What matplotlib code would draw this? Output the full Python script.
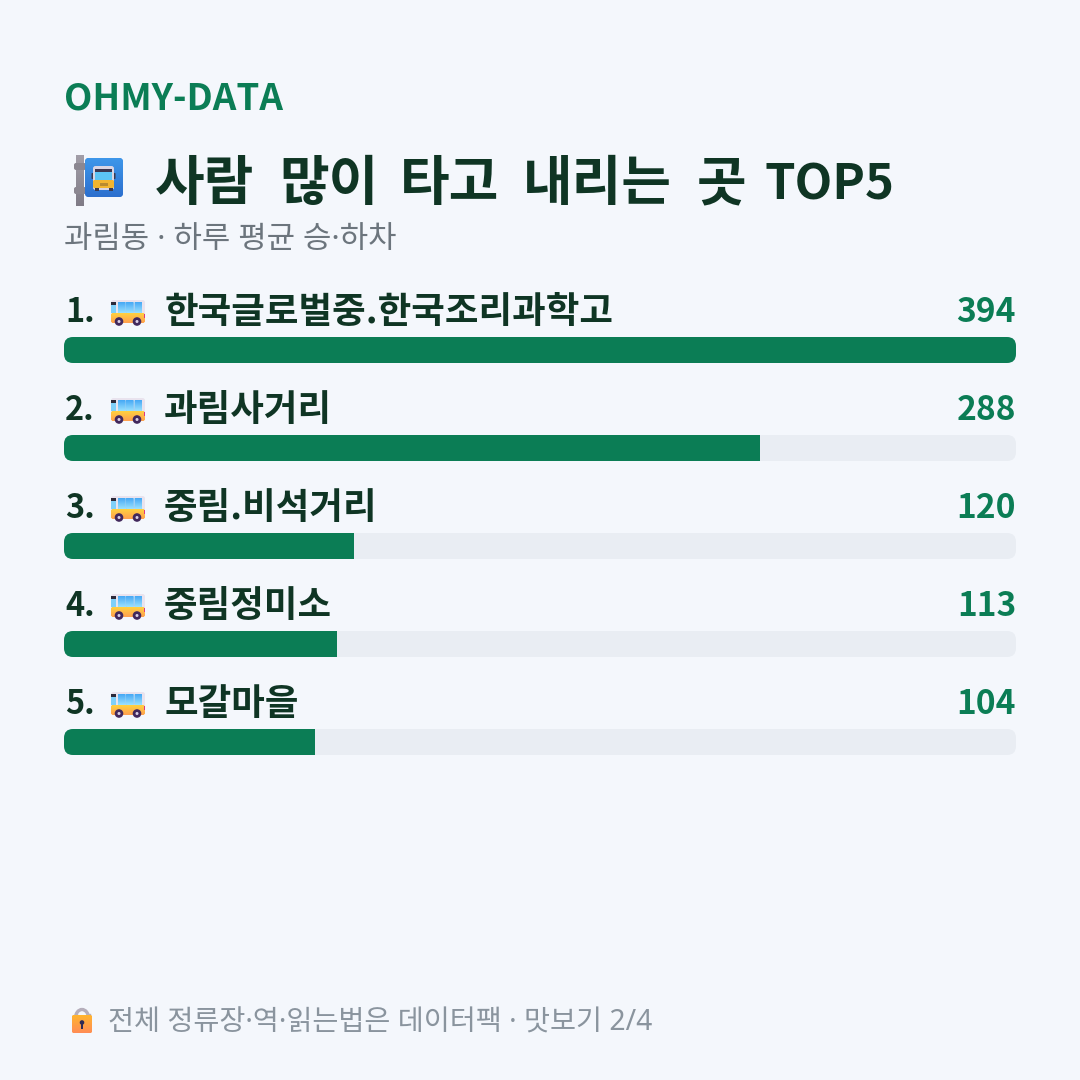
import numpy as np
import matplotlib
matplotlib.use("Agg")
import matplotlib.pyplot as plt
from matplotlib.patches import Circle, FancyBboxPatch, Rectangle, Arc
from matplotlib.colors import LinearSegmentedColormap

stops = ["한국글로벌중.한국조리과학고", "과림사거리", "중림.비석거리", "중림정미소", "모갈마을"]
riders = [394, 288, 120, 113, 104]
title_words = ["사람", "많이", "타고", "내리는", "곳"]
title_word_x = [155, 279, 400, 523, 697]

BG = "#F4F7FC"
GREEN = "#0B7D55"
DARK = "#0F3524"
TRACK = "#E9EDF3"
FONTS = ["Noto Sans", "Noto Sans CJK KR", "DejaVu Sans"]
BOLD_FONTS = ["Noto Sans CJK KR", "DejaVu Sans"]

plt.rcParams["font.family"] = FONTS

fig = plt.figure(figsize=(10.8, 10.8), dpi=100, facecolor=BG)

# canvas in pixels, y pointing down
ax = fig.add_axes([0, 0, 1, 1], zorder=1)
ax.set_xlim(0, 1080)
ax.set_ylim(1080, 0)
ax.axis("off")

# bars get their own x scale, running from 0 to the top value
bar_ax = fig.add_axes([64 / 1080, 0, 952 / 1080, 1], zorder=2)
bar_ax.set_xlim(0, max(riders))
bar_ax.set_ylim(1080, 0)
bar_ax.axis("off")

top_ax = fig.add_axes([0, 0, 1, 1], zorder=3)
top_ax.set_xlim(0, 1080)
top_ax.set_ylim(1080, 0)
top_ax.axis("off")


def label(x, y, s, px, color, weight="normal", ha="left"):
    family = BOLD_FONTS if weight == "bold" else FONTS
    top_ax.text(x, y, s, fontsize=px * 0.72, color=color, fontweight=weight,
                ha=ha, va="baseline", family=family)


def round_box(x, y, w, h, r, color, zorder=2):
    box = FancyBboxPatch((x + r, y + r), w - 2 * r, h - 2 * r,
                         boxstyle=f"round,pad={r},rounding_size={r}",
                         fc=color, ec="none", zorder=zorder)
    top_ax.add_patch(box)
    return box


def gradient(x, y, w, h, colors, clip=None, zorder=2):
    cmap = LinearSegmentedColormap.from_list("g", colors)
    im = top_ax.imshow(np.linspace(0, 1, 64).reshape(-1, 1), cmap=cmap, aspect="auto",
                       extent=(x, x + w, y + h, y), origin="upper", zorder=zorder,
                       interpolation="bilinear")
    if clip is not None:
        im.set_clip_path(clip)
    top_ax.set_xlim(0, 1080)
    top_ax.set_ylim(1080, 0)
    return im


def small_bus(x, y):
    # side view bus, about 34 x 26 px
    round_box(x, y, 34, 22, 2.5, "#E9E3EE", zorder=2)
    lower = round_box(x, y + 13, 34, 10, 2.5, "#FFB638", zorder=3)
    gradient(x, y + 13, 34, 10, ["#FFD23F", "#FF9F50"], clip=lower, zorder=3)
    top_ax.add_patch(Rectangle((x, y + 2), 5, 11, fc="#7FD0FA", ec="none", zorder=4))
    top_ax.add_patch(Rectangle((x, y + 1.5), 5, 3, fc="#2B2A3A", ec="none", zorder=5))
    for wx in (x + 7, x + 15, x + 23.5):
        win = round_box(wx, y + 2, 7.5, 11, 0.8, "#58BFFA", zorder=4)
        gradient(wx, y + 2, 7.5, 11, ["#45A8F5", "#9BE2FF"], clip=win, zorder=4)
    top_ax.add_patch(Rectangle((x + 32.5, y + 14), 1.5, 3.5, fc="#E0367F", ec="none", zorder=5))
    for cx in (x + 8, x + 26):
        top_ax.add_patch(Circle((cx, y + 21.5), 4.3, fc="#41285C", ec="none", zorder=6))
        top_ax.add_patch(Circle((cx, y + 21.5), 1.5, fc="#D9CFE6", ec="none", zorder=7))


def stop_sign(x, y):
    # pole with two collars, then the blue sign holding a front view bus
    pole = Rectangle((x + 2, y), 8, 51, fc="#8E8A94", ec="none", zorder=2)
    top_ax.add_patch(pole)
    gradient(x + 2, y, 8, 51, ["#A29EA8", "#7F7B86"], clip=pole, zorder=2)
    for cy in (y + 8, y + 32):
        round_box(x, cy, 12, 7, 2, "#8B8791", zorder=3)
    sign = round_box(x + 11, y + 3, 38, 39, 4, "#2F80DC", zorder=4)
    gradient(x + 11, y + 3, 38, 39, ["#3E97EA", "#2C6FCE"], clip=sign, zorder=4)
    bx, by = x + 19, y + 11
    round_box(bx - 1.5, by + 7, 2, 6, 0.8, "#3A3A50", zorder=5)
    round_box(bx + 20.5, by + 7, 2, 6, 0.8, "#3A3A50", zorder=5)
    round_box(bx, by, 21, 24, 2.5, "#D9D5E4", zorder=5)
    top_ax.add_patch(Rectangle((bx + 2, by + 2.5), 17, 3, fc="#3B3650", ec="none", zorder=6))
    top_ax.add_patch(Rectangle((bx + 2, by + 5.5), 17, 8, fc="#5CC4F5", ec="none", zorder=6))
    round_box(bx, by + 14, 21, 8, 1.5, "#F2B530", zorder=6)
    top_ax.add_patch(Rectangle((bx + 6.5, by + 16.5), 8, 3, fc="#B98A2E", ec="none", zorder=7))
    top_ax.add_patch(Rectangle((bx + 1.5, by + 22), 4, 2.5, fc="#3A3A50", ec="none", zorder=7))
    top_ax.add_patch(Rectangle((bx + 15.5, by + 22), 4, 2.5, fc="#3A3A50", ec="none", zorder=7))


def lock(x, y):
    top_ax.add_patch(Arc((x + 10, y + 11), 13, 17, theta1=180, theta2=360, lw=2.4,
                         color="#B5AEBB", zorder=2))
    top_ax.plot([x + 3.5, x + 3.5], [y + 8, y + 12], color="#B5AEBB", lw=2.4, zorder=2)
    top_ax.plot([x + 16.5, x + 16.5], [y + 8, y + 12], color="#B5AEBB", lw=2.4, zorder=2)
    body = round_box(x, y + 8, 20, 18, 2, "#FFA63D", zorder=3)
    gradient(x, y + 8, 20, 18, ["#FFB52E", "#FF8C55"], clip=body, zorder=3)
    top_ax.add_patch(Circle((x + 10, y + 15.5), 2.3, fc="#2E2A55", ec="none", zorder=4))
    top_ax.add_patch(Rectangle((x + 9, y + 16), 2, 6, fc="#2E2A55", ec="none", zorder=4))


# header
label(64, 110, "OHMY-DATA", 36.8, GREEN, "bold")
stop_sign(74, 155)
for word, wx in zip(title_words, title_word_x):
    label(wx, 200, word, 54, DARK, "bold")
label(765, 200, "TOP5", 49, DARK, "bold")
label(64, 248, "과림동 · 하루 평균 승·하차", 30.9, "#6C757D")

# ranked rows
row_y = [350 + 98 * i for i in range(len(stops))]
for i, (name, value, y) in enumerate(zip(stops, riders, row_y)):
    track = FancyBboxPatch((64 + 9, y - 13 + 9), 952 - 18, 26 - 18,
                           boxstyle="round,pad=9,rounding_size=9",
                           fc=TRACK, ec="none", zorder=1)
    ax.add_patch(track)
    bars = bar_ax.barh([y], [value], height=26, color=GREEN, linewidth=0)
    bars[0].set_clip_path(track)
    label(65, y - 28, f"{i + 1}.", 32.5, DARK, "bold")
    small_bus(111, y - 50)
    label(164, y - 27, name, 36.5, DARK, "bold")
    label(1016, y - 28, str(value), 33.5, GREEN, "bold", ha="right")

# footer
lock(72, 1007)
label(108, 1031, "전체 정류장·역·읽는법은 데이터팩 · 맛보기 2/4", 28.3, "#8A949E")

fig.savefig("out.png", dpi=100, facecolor=BG)
